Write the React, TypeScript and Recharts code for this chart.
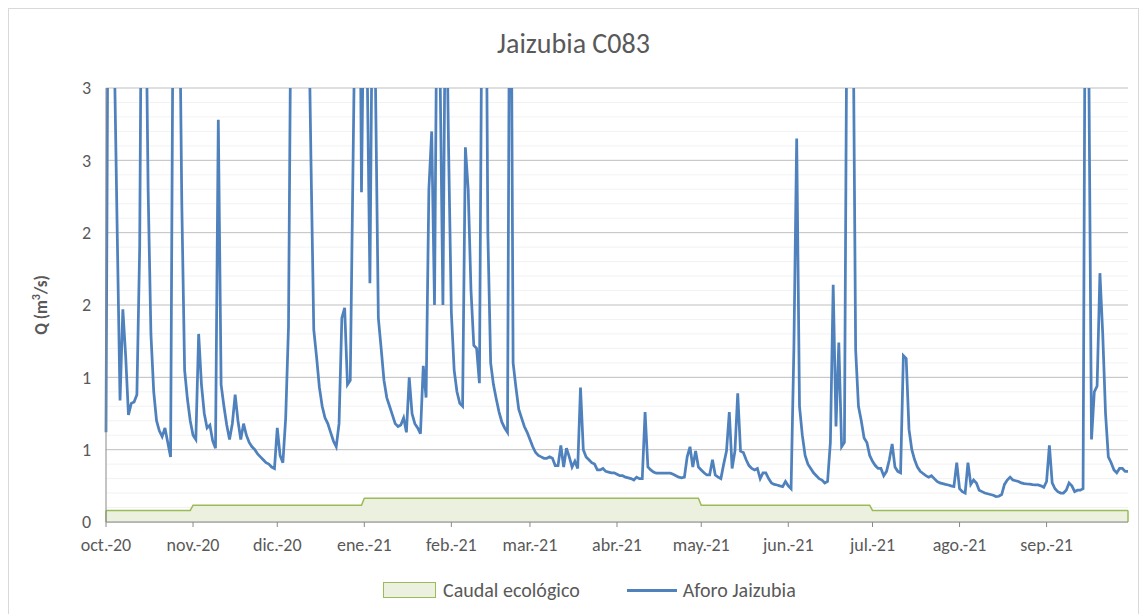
import {
  ComposedChart,
  Area,
  Line,
  XAxis,
  YAxis,
  CartesianGrid,
  ReferenceLine,
} from 'recharts';

// Month axis (hydrological year oct.-20 .. sep.-21)
const monthLabels = [
  'oct.-20', 'nov.-20', 'dic.-20', 'ene.-21', 'feb.-21', 'mar.-21',
  'abr.-21', 'may.-21', 'jun.-21', 'jul.-21', 'ago.-21', 'sep.-21',
];

// Caudal ecológico (m3/s), one value per month
const caudalEcologico = [0.08, 0.115, 0.115, 0.165, 0.165, 0.165, 0.165, 0.115, 0.115, 0.08, 0.08, 0.08];

// Aforo Jaizubia, daily flow (m3/s)
const aforoOct = [
  0.62, 5, 4.5, 3.2, 2.0, 0.84, 1.47, 1.15, 0.74, 0.82, 0.83, 0.88, 1.9, 5, 4, 2.3,
  1.3, 0.9, 0.7, 0.63, 0.59, 0.65, 0.55, 0.45, 4, 5, 4, 2.2, 1.05, 0.85, 0.7,
];
const aforoNov = [
  0.6, 0.57, 1.3, 0.95, 0.75, 0.65, 0.67, 0.56, 0.51, 2.78, 0.95, 0.8, 0.67, 0.57, 0.68,
  0.88, 0.7, 0.57, 0.68, 0.6, 0.55, 0.52, 0.5, 0.47, 0.45, 0.43, 0.41, 0.4, 0.38, 0.37,
];
const aforoDic = [
  0.65, 0.46, 0.41, 0.72, 1.35, 4, 6, 8, 8, 6, 5, 3.8, 2.5, 1.33, 1.14, 0.93,
  0.8, 0.72, 0.68, 0.62, 0.56, 0.52, 0.68, 1.41, 1.48, 0.95, 0.98, 2.5, 4, 5, 2.28,
];
const aforoEne = [
  4, 3.2, 1.65, 4, 3.0, 1.41, 1.2, 0.98, 0.86, 0.8, 0.74, 0.68, 0.66, 0.67, 0.72, 0.62,
  1.0, 0.75, 0.68, 0.65, 0.61, 1.08, 0.86, 2.3, 2.7, 1.5, 4, 3.1, 1.5, 4, 2.6,
];
const aforoFeb = [
  1.45, 1.05, 0.9, 0.82, 0.8, 2.59, 2.3, 1.6, 1.22, 1.2, 0.96, 4, 5, 2.0,
  1.1, 0.95, 0.85, 0.76, 0.69, 0.65, 0.62, 5, 1.1, 0.93, 0.78, 0.72, 0.66, 0.62,
];
const aforoMar = [
  0.57, 0.52, 0.48, 0.46, 0.45, 0.44, 0.44, 0.45, 0.44, 0.39, 0.39, 0.53, 0.38, 0.51, 0.45, 0.38,
  0.42, 0.37, 0.93, 0.5, 0.45, 0.43, 0.41, 0.4, 0.36, 0.36, 0.37, 0.35, 0.345, 0.34, 0.34,
];
const aforoAbr = [
  0.33, 0.32, 0.32, 0.31, 0.305, 0.3, 0.29, 0.31, 0.3, 0.3, 0.76, 0.38, 0.36, 0.345, 0.337,
  0.337, 0.337, 0.337, 0.337, 0.337, 0.33, 0.32, 0.31, 0.305, 0.31, 0.45, 0.52, 0.38, 0.49, 0.38,
];
const aforoMay = [
  0.36, 0.34, 0.325, 0.325, 0.43, 0.325, 0.31, 0.3, 0.4, 0.49, 0.76, 0.37, 0.49, 0.89, 0.49, 0.48,
  0.43, 0.39, 0.37, 0.36, 0.37, 0.3, 0.34, 0.34, 0.3, 0.27, 0.26, 0.256, 0.25, 0.245, 0.28,
];
const aforoJun = [
  0.25, 0.23, 1.2, 2.65, 0.8, 0.6, 0.46, 0.4, 0.37, 0.34, 0.32, 0.3, 0.29, 0.27, 0.28,
  0.55, 1.64, 0.66, 1.24, 0.52, 0.55, 4, 6, 3.8, 1.19, 0.8, 0.7, 0.58, 0.55, 0.46,
];
const aforoJul = [
  0.42, 0.39, 0.37, 0.37, 0.32, 0.35, 0.43, 0.54, 0.38, 0.35, 0.34, 1.15, 1.13, 0.64, 0.5, 0.43,
  0.38, 0.35, 0.335, 0.32, 0.31, 0.32, 0.3, 0.28, 0.27, 0.265, 0.26, 0.256, 0.25, 0.245, 0.41,
];
const aforoAgo = [
  0.23, 0.21, 0.2, 0.41, 0.26, 0.29, 0.27, 0.22, 0.21, 0.2, 0.195, 0.19, 0.185, 0.176, 0.178, 0.19,
  0.26, 0.29, 0.31, 0.29, 0.285, 0.28, 0.27, 0.265, 0.263, 0.262, 0.258, 0.256, 0.256, 0.25, 0.24,
];
const aforoSep = [
  0.28, 0.53, 0.27, 0.23, 0.21, 0.2, 0.2, 0.22, 0.27, 0.25, 0.21, 0.22, 0.22, 0.23, 5,
  3.3, 0.57, 0.9, 0.94, 1.72, 1.3, 0.75, 0.45, 0.41, 0.36, 0.34, 0.37, 0.37, 0.35, 0.35,
];

const aforoByMonth = [
  aforoOct, aforoNov, aforoDic, aforoEne, aforoFeb, aforoMar,
  aforoAbr, aforoMay, aforoJun, aforoJul, aforoAgo, aforoSep,
];

const yMax = 3;
const yTicks = [0, 0.5, 1, 1.5, 2, 2.5, 3];
const yMinorTicks = [
  0.1, 0.2, 0.3, 0.4, 0.6, 0.7, 0.8, 0.9, 1.1, 1.2, 1.3, 1.4, 1.6, 1.7, 1.8, 1.9,
  2.1, 2.2, 2.3, 2.4, 2.6, 2.7, 2.8, 2.9,
];

// build the daily table
const monthStart: number[] = [];
const chartData: { day: number; q: number; eco: number }[] = [];
aforoByMonth.forEach((month, i) => {
  monthStart.push(chartData.length);
  month.forEach((q) => {
    chartData.push({ day: chartData.length, q, eco: caudalEcologico[i] });
  });
});
const lastDay = chartData.length - 1;

const FONT = 'Carlito, Calibri, Lato, sans-serif';
const TEXT = '#595959';

export default function App() {
  return (
    <div style={{ position: 'absolute', left: 0, top: 0, width: 1141, height: 614, background: '#fff', fontFamily: FONT }}>
      <div
        style={{
          position: 'absolute', left: 8, top: 8, width: 1131, height: 620,
          border: '1px solid #d9d9d9', boxSizing: 'border-box',
        }}
      />
      <div
        style={{
          position: 'absolute', left: 8, width: 1131, top: 27, textAlign: 'center',
          fontSize: 28, color: TEXT, lineHeight: '34px',
        }}
      >
        Jaizubia C083
      </div>
      <ComposedChart
        width={1141}
        height={614}
        data={chartData}
        margin={{ top: 88, right: 13, bottom: 62, left: 0 }}
        style={{ position: 'absolute', left: 0, top: 0 }}
      >
        {/* minor gridlines every 0.1 */}
        <CartesianGrid
          vertical={false}
          stroke="#f2f2f2"
          horizontalCoordinatesGenerator={({ offset }: any) =>
            yMinorTicks.map((v) => offset.top + offset.height * (1 - v / yMax))
          }
        />
        <CartesianGrid vertical={false} stroke="#bfbfbf" />
        <XAxis
          dataKey="day"
          type="number"
          domain={[0, lastDay]}
          ticks={monthStart}
          tickFormatter={(d: number) => monthLabels[monthStart.indexOf(d)]}
          height={30}
          tickSize={5}
          tickMargin={11}
          stroke="#898989"
          tick={{ fill: TEXT, fontSize: 18, fontFamily: FONT }}
          interval={0}
        />
        <YAxis
          type="number"
          domain={[0, yMax]}
          allowDataOverflow
          ticks={yTicks}
          tickFormatter={(v: number) => String(Math.round(v))}
          width={106}
          tickLine={false}
          tickSize={0}
          tickMargin={15}
          stroke="#898989"
          tick={{ fill: TEXT, fontSize: 18, fontFamily: FONT }}
          label={({ viewBox }: any) => (
            <text
              x={47}
              y={viewBox.y + viewBox.height / 2}
              transform={`rotate(-90 47 ${viewBox.y + viewBox.height / 2})`}
              textAnchor="middle"
              fill={TEXT}
              fontSize={17}
              fontWeight="bold"
              fontFamily={FONT}
            >
              Q (m<tspan baselineShift="super" fontSize={12}>3</tspan>/s)
            </text>
          )}
        />
        <Area
          type="linear"
          dataKey="eco"
          stroke="#9bbb59"
          strokeWidth={1.5}
          fill="#ebf1de"
          fillOpacity={1}
          isAnimationActive={false}
        />
        <ReferenceLine
          segment={[{ x: 0, y: 0 }, { x: 0, y: caudalEcologico[0] }]}
          stroke="#9bbb59"
          strokeWidth={1.5}
        />
        <ReferenceLine
          segment={[{ x: lastDay, y: 0 }, { x: lastDay, y: caudalEcologico[11] }]}
          stroke="#9bbb59"
          strokeWidth={1.5}
        />
        <Line
          type="linear"
          dataKey="q"
          stroke="#4f81bd"
          strokeWidth={2.75}
          dot={false}
          isAnimationActive={false}
        />
      </ComposedChart>
      <div
        style={{
          position: 'absolute', top: 577, left: 383, display: 'flex',
          alignItems: 'center', fontSize: 20, color: TEXT, lineHeight: '26px', whiteSpace: 'nowrap',
        }}
      >
        <span style={{ display: 'inline-block', width: 51, height: 14, background: '#ebf1de', border: '1.5px solid #9bbb59', marginRight: 7 }} />
        <span style={{ marginRight: 47 }}>Caudal ecológico</span>
        <span style={{ display: 'inline-block', width: 50, height: 3, background: '#4f81bd', marginRight: 6 }} />
        <span>Aforo Jaizubia</span>
      </div>
    </div>
  );
}
